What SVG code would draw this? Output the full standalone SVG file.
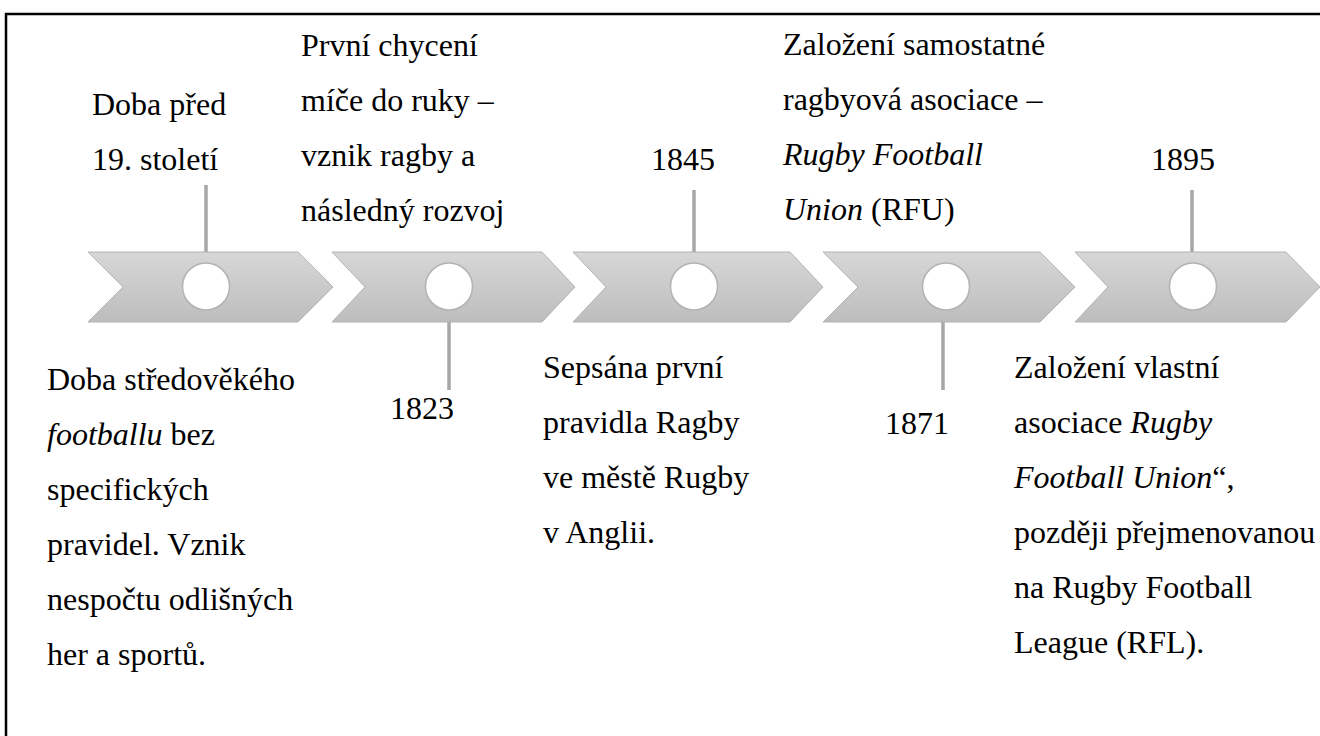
<svg xmlns="http://www.w3.org/2000/svg" width="1320" height="736" viewBox="0 0 1320 736">
<defs>
<linearGradient id="chev" x1="0" y1="0" x2="0" y2="1">
<stop offset="0" stop-color="#d7d7d7"/>
<stop offset="1" stop-color="#bdbdbd"/>
</linearGradient>
<style>
.chev{fill:url(#chev);stroke:#b3b3b3;stroke-width:1}
.dot{fill:#ffffff;stroke:#b3b3b3;stroke-width:1.5}
</style>
</defs>
<rect x="0" y="0" width="1320" height="736" fill="#ffffff"/>
<path d="M6,737 V14 H1321" fill="none" stroke="#000" stroke-width="2.5"/>

<g id="connectors" stroke="#aaa6a6" stroke-width="3.5" fill="none">
<line x1="206" y1="185" x2="206" y2="263"/>
<line x1="449" y1="310" x2="449" y2="390"/>
<line x1="694" y1="190" x2="694" y2="263"/>
<line x1="943" y1="310" x2="943" y2="390"/>
<line x1="1192" y1="190" x2="1192" y2="263"/>
</g>

<g id="node1" font-family="Liberation Serif" font-size="32">
<polygon class="chev" points="88,252 298,252 333,287 298,322 88,322 123,287"/>
<circle class="dot" cx="206" cy="286.5" r="23.5"/>
<text x="92" y="115">Doba před</text>
<text x="92" y="170">19. století</text>
<text x="47" y="390">Doba středověkého</text>
<text x="47" y="445"><tspan font-style="italic">footballu</tspan> bez</text>
<text x="47" y="500">specifických</text>
<text x="47" y="555">pravidel. Vznik</text>
<text x="47" y="610">nespočtu odlišných</text>
<text x="47" y="665">her a sportů.</text>
</g>

<g id="node2" font-family="Liberation Serif" font-size="32">
<polygon class="chev" points="332,252 542,252 575,287 542,322 332,322 365,287"/>
<circle class="dot" cx="449" cy="286.5" r="23.5"/>
<text x="301" y="56">První chycení</text>
<text x="301" y="111">míče do ruky –</text>
<text x="301" y="166">vznik ragby a</text>
<text x="301" y="221">následný rozvoj</text>
<text x="390" y="419">1823</text>
</g>

<g id="node3" font-family="Liberation Serif" font-size="32">
<polygon class="chev" points="573,252 790,252 823,287 790,322 573,322 606,287"/>
<circle class="dot" cx="694" cy="286.5" r="23.5"/>
<text x="651" y="170">1845</text>
<text x="543" y="378">Sepsána první</text>
<text x="543" y="433">pravidla Ragby</text>
<text x="543" y="488">ve městě Rugby</text>
<text x="543" y="543">v Anglii.</text>
</g>

<g id="node4" font-family="Liberation Serif" font-size="32">
<polygon class="chev" points="823,252 1040,252 1075,287 1040,322 823,322 858,287"/>
<circle class="dot" cx="946" cy="286.5" r="23.5"/>
<text x="783" y="55">Založení samostatné</text>
<text x="783" y="110">ragbyová asociace –</text>
<text x="783" y="165" font-style="italic">Rugby Football</text>
<text x="783" y="220"><tspan font-style="italic">Union</tspan> (RFU)</text>
<text x="885" y="434">1871</text>
</g>

<g id="node5" font-family="Liberation Serif" font-size="32">
<polygon class="chev" points="1075,252 1286,252 1320,287 1286,322 1075,322 1108,287"/>
<circle class="dot" cx="1193" cy="286.5" r="23.5"/>
<text x="1151" y="170">1895</text>
<text x="1014" y="378">Založení vlastní</text>
<text x="1014" y="433">asociace <tspan font-style="italic">Rugby</tspan></text>
<text x="1014" y="488"><tspan font-style="italic">Football Union</tspan>“,</text>
<text x="1014" y="543">později přejmenovanou</text>
<text x="1014" y="598">na Rugby Football</text>
<text x="1014" y="653">League (RFL).</text>
</g>
</svg>
